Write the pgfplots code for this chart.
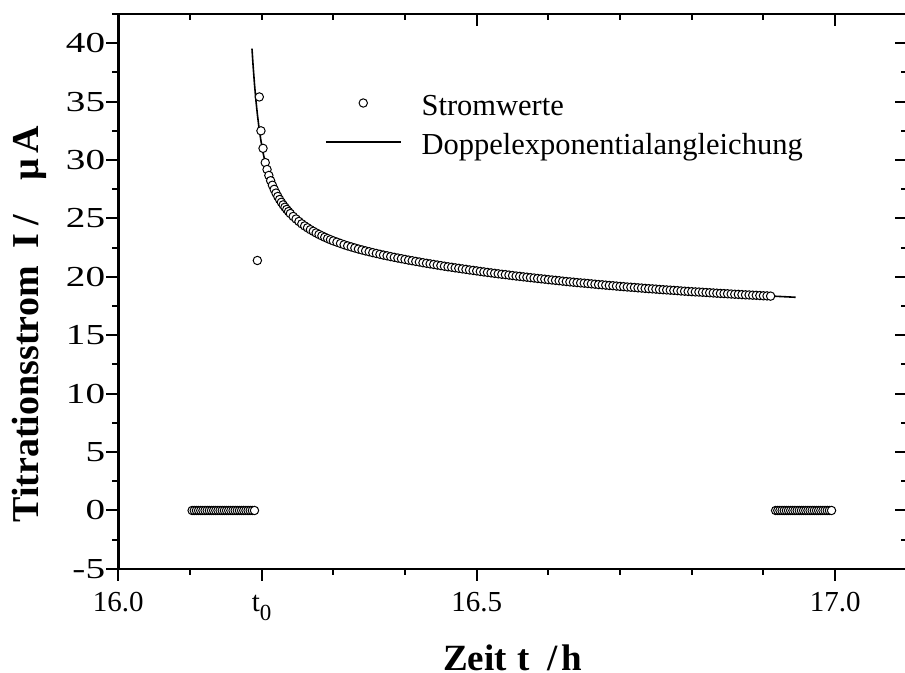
\documentclass[border=0pt]{standalone}
\usepackage{fontspec}
\setmainfont{Liberation Serif}
\usepackage{graphicx}
\usepackage{pgfplots}
\usepackage{pgfplotstable}
\pgfplotsset{compat=1.18}

% wide digits for the current axis
\newcommand{\yl}[1]{\scalebox{1.35}[1]{#1}}

% measured current before titration start and after the end (baseline)
\pgfplotstableread{
t I
16.103 0
16.106 0
16.109 0
16.112 0
16.115 0
16.118 0
16.121 0
16.124 0
16.127 0
16.130 0
16.133 0
16.136 0
16.139 0
16.142 0
16.145 0
16.148 0
16.151 0
16.154 0
16.157 0
16.160 0
16.163 0
16.166 0
16.169 0
16.172 0
16.175 0
16.178 0
16.181 0
16.184 0
16.187 0
16.190 0
16.1940 21.40
16.1967 35.40
16.1990 32.50
16.2019 31.00
16.2050 29.78
16.2075 29.19
16.2100 28.68
16.2125 28.23
16.2150 27.84
16.2175 27.49
16.2200 27.17
16.2225 26.88
16.2250 26.62
16.2275 26.38
16.2300 26.16
16.2325 25.96
16.2350 25.77
16.2375 25.59
16.2400 25.42
16.2440 25.17
16.2480 24.95
16.2520 24.74
16.2560 24.54
16.2600 24.36
16.2640 24.20
16.2680 24.04
16.2720 23.90
16.2760 23.76
16.2800 23.63
16.2840 23.51
16.2880 23.39
16.2920 23.28
16.2960 23.18
16.300 23.08
16.305 22.97
16.310 22.86
16.315 22.75
16.320 22.65
16.325 22.56
16.330 22.47
16.335 22.38
16.340 22.30
16.345 22.22
16.350 22.15
16.355 22.07
16.360 22.00
16.365 21.93
16.370 21.86
16.375 21.80
16.380 21.73
16.385 21.67
16.390 21.61
16.395 21.55
16.400 21.49
16.405 21.43
16.410 21.38
16.415 21.32
16.420 21.27
16.425 21.21
16.430 21.16
16.435 21.11
16.440 21.06
16.445 21.01
16.450 20.96
16.455 20.91
16.460 20.86
16.465 20.82
16.470 20.77
16.475 20.73
16.480 20.68
16.485 20.64
16.490 20.59
16.495 20.55
16.500 20.51
16.505 20.46
16.510 20.42
16.515 20.38
16.520 20.34
16.525 20.30
16.530 20.26
16.535 20.22
16.540 20.19
16.545 20.15
16.550 20.11
16.555 20.07
16.560 20.04
16.565 20.00
16.570 19.97
16.575 19.93
16.580 19.90
16.585 19.86
16.590 19.83
16.595 19.80
16.600 19.76
16.605 19.73
16.610 19.70
16.615 19.67
16.620 19.63
16.625 19.60
16.630 19.57
16.635 19.54
16.640 19.51
16.645 19.48
16.650 19.46
16.655 19.43
16.660 19.40
16.665 19.37
16.670 19.34
16.675 19.32
16.680 19.29
16.685 19.26
16.690 19.24
16.695 19.21
16.700 19.18
16.705 19.16
16.710 19.13
16.715 19.11
16.720 19.09
16.725 19.06
16.730 19.04
16.735 19.01
16.740 18.99
16.745 18.97
16.750 18.95
16.755 18.92
16.760 18.90
16.765 18.88
16.770 18.86
16.775 18.84
16.780 18.82
16.785 18.79
16.790 18.77
16.795 18.75
16.800 18.73
16.805 18.71
16.810 18.70
16.815 18.68
16.820 18.66
16.825 18.64
16.830 18.62
16.835 18.60
16.840 18.58
16.845 18.57
16.850 18.55
16.855 18.53
16.860 18.51
16.865 18.50
16.870 18.48
16.875 18.46
16.880 18.45
16.885 18.43
16.890 18.42
16.895 18.40
16.900 18.38
16.905 18.37
16.910 18.35
16.917 0
16.920 0
16.923 0
16.926 0
16.929 0
16.932 0
16.935 0
16.938 0
16.941 0
16.944 0
16.947 0
16.950 0
16.953 0
16.956 0
16.959 0
16.962 0
16.965 0
16.968 0
16.971 0
16.974 0
16.977 0
16.980 0
16.983 0
16.986 0
16.989 0
16.992 0
16.995 0
}\stromwerte

% double exponential fit curve
\pgfplotstableread{
t I
16.1865 39.54
16.1880 38.12
16.1900 36.49
16.1920 35.10
16.1940 33.92
16.1960 32.91
16.1980 32.04
16.2000 31.28
16.2025 30.47
16.2050 29.78
16.2075 29.19
16.2100 28.68
16.2150 27.84
16.2200 27.17
16.2250 26.62
16.2300 26.16
16.2350 25.77
16.2400 25.42
16.2480 24.95
16.2560 24.54
16.2640 24.20
16.2720 23.90
16.2800 23.63
16.2880 23.39
16.2960 23.18
16.310 22.86
16.320 22.65
16.330 22.47
16.340 22.30
16.355 22.07
16.370 21.86
16.390 21.61
16.415 21.32
16.440 21.06
16.465 20.82
16.490 20.59
16.540 20.19
16.590 19.83
16.640 19.51
16.690 19.24
16.740 18.99
16.790 18.77
16.840 18.58
16.890 18.42
16.945 18.25
}\angleichung

\pgfplotsset{
  frame/.style={
    at={(118.3bp,104.1bp)}, anchor=south west,
    scale only axis, width=788.5bp, height=554.9bp,
    xmin=16, xmax=17.1, ymin=-5, ymax=42.5,
    major tick length=12bp, minor tick length=6bp,
    every tick/.style={black, line width=2bp},
    axis line style={black, line width=2.4bp},
    xtick={16,16.5,17},
    minor xtick={16.1,16.2,16.3,16.4,16.6,16.7,16.8,16.9},
    ytick={-5,0,5,10,15,20,25,30,35,40},
    minor ytick={-2.5,2.5,7.5,12.5,17.5,22.5,27.5,32.5,37.5,42.5},
  },
  markleg/.style={legend image code/.code={\draw[#1] plot coordinates {(37.5bp,5bp)};}},
  lineleg/.style={legend image code/.code={\draw[#1] (0bp,5bp) -- (75bp,5bp);}},
}

\begin{document}
\begin{tikzpicture}[x=1bp,y=1bp]
\useasboundingbox (0bp,0bp) rectangle (905bp,673bp);

% bottom and left axes with outward ticks, labels and data
\begin{axis}[frame,
  axis x line*=bottom, axis y line*=left,
  xtick pos=bottom, ytick pos=left,
  tick align=outside,
  xtick={16,16.2,16.5,17},
  minor xtick={16.1,16.3,16.4,16.6,16.7,16.8,16.9},
  xticklabels={16.0,{t\raisebox{-9bp}{\fontsize{23bp}{23bp}\selectfont 0}},16.5,17.0},
  yticklabels={\yl{-5},\yl{0},\yl{5},\yl{10},\yl{15},\yl{20},\yl{25},\yl{30},\yl{35},\yl{40}},
  xticklabel style={font=\fontsize{29bp}{29bp}\selectfont, anchor=base, inner sep=0pt, yshift=-31bp},
  yticklabel style={font=\fontsize{29bp}{29bp}\selectfont, anchor=east, inner sep=0pt, xshift=-1bp},
  legend style={draw=none, fill=none, inner sep=0pt, outer sep=0pt,
    at={(0.2621,0.8540)}, anchor=north west,
    font=\fontsize{30.5bp}{30.5bp}\selectfont,
    nodes={inner sep=0pt, text height=20bp, text depth=6bp},
    row sep=13bp, column sep=20bp},
  legend cell align=left,
  clip=false,
]
\addplot[only marks, mark=*, mark size=4.2bp,
  mark options={fill=white, draw=black, line width=1bp}, markleg]
  table[x=t, y=I] {\stromwerte};
\addlegendentry{Stromwerte}
\addplot[black, line width=1.6bp, no marks, lineleg]
  table[x=t, y=I] {\angleichung};
\addlegendentry{Doppelexponentialangleichung}
\end{axis}

% top and right axes with inward ticks
\begin{axis}[frame,
  axis x line*=top, axis y line*=right,
  xtick pos=top, ytick pos=right,
  tick align=inside,
  xticklabels={}, yticklabels={},
]
\end{axis}

\node[anchor=base, font=\bfseries\fontsize{37bp}{37bp}\selectfont]
  at (512.5bp,2.5bp) {Zeit\hspace{11bp}t\hspace{17bp}/\hspace{4bp}h};
\node[anchor=base, rotate=90, font=\bfseries\fontsize{38bp}{38bp}\selectfont]
  at (38.5bp,349bp) {Titrationsstrom\hspace{18bp}I\hspace{8bp}/\hspace{34bp}µ\hspace{6bp}A};
\end{tikzpicture}
\end{document}
